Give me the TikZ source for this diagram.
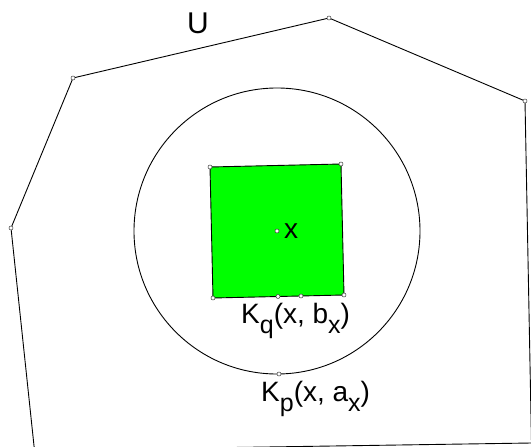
\documentclass[tikz,border=0pt]{standalone}
\usepackage{fontspec}
\setmainfont{Liberation Sans}
\newcommand\lowsub[1]{\raisebox{-10pt}{\fontsize{25}{28}\selectfont #1}}
\begin{document}
\begin{tikzpicture}[x=1pt,y=-1pt,
  dotpt/.style={circle,draw=black!75,fill=white,inner sep=0pt,minimum size=4pt,line width=0.5pt},
  edge/.style={draw=black,line width=0.9pt},
  lbl/.style={inner sep=0pt,font=\fontsize{28}{32}\selectfont}]
\useasboundingbox (0,0) rectangle (531,447);
\fill[white] (0,0) rectangle (531,447);
\begin{scope}
\clip (0,0) rectangle (531,447);
% polygon U
\coordinate (v1) at (34.5,450.5);
\coordinate (v2) at (11,228);
\coordinate (v3) at (73,78);
\coordinate (v4) at (329,18);
\coordinate (v5) at (525,101);
\coordinate (v6) at (531.5,443);
\draw[edge] (v1) -- (v2) -- (v3) -- (v4) -- (v5) -- (v6) -- cycle;
% circle
\coordinate (c) at (277,231);
\draw[edge] (c) circle (143pt);
% square
\coordinate (s1) at (210,167);
\coordinate (s2) at (341,164);
\coordinate (s3) at (344,295);
\coordinate (s4) at (213,298);
\filldraw[fill=green, draw=black, line width=0.9pt] (s1) -- (s2) -- (s3) -- (s4) -- cycle;
% points
\node[dotpt] (n2) at (v2) {};
\node[dotpt] (n3) at (v3) {};
\node[dotpt] (n4) at (v4) {};
\node[dotpt] (n5) at (v5) {};
\node[dotpt] (q1) at (s1) {};
\node[dotpt] (q2) at (s2) {};
\node[dotpt] (q3) at (s3) {};
\node[dotpt] (q4) at (s4) {};
\node[dotpt] (xc) at (c) {};
\node[dotpt] (b1) at (278,296.5) {};
\node[dotpt] (b2) at (301,296) {};
\node[dotpt] (cp) at (279,374) {};
% labels
\node[lbl, anchor=base west, font=\fontsize{30}{34}\selectfont] (lU) at (187,34) {U};
\node[lbl, anchor=base west] (lx) at (284,238) {x};
\node[lbl, anchor=base west] (lq) at (241,323) {K\lowsub{q}(x, b\lowsub{x})};
\node[lbl, anchor=base west] (lp) at (261,401) {K\lowsub{p}(x, a\lowsub{x})};
\end{scope}
\end{tikzpicture}
\end{document}
